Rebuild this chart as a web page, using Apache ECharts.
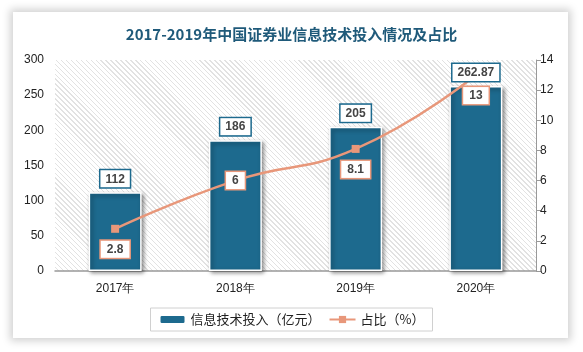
<!DOCTYPE html>
<html>
<head>
<meta charset="utf-8">
<script src="https://cdn.jsdelivr.net/npm/echarts@6/dist/echarts.min.js"></script>
<style>
html, body { margin: 0; padding: 0; background: #fff; }
#wrap { position: relative; width: 583px; height: 352px; overflow: hidden; }
.card {
  position: absolute; left: 13px; top: 12px; width: 555px; height: 326px;
  background: #fff; box-shadow: 0 0 8px 3px rgba(0,0,0,0.18);
}
.hatch {
  position: absolute; left: 55px; top: 60px; width: 481px; height: 211px;
  background: repeating-linear-gradient(45deg, #fff 0px, #fff 2.5px, #e2e2e2 2.5px, #e2e2e2 3.5px);
}
#main { position: absolute; left: 0; top: 0; width: 583px; height: 352px; }
</style>
</head>
<body>
<div id="wrap">
  <div class="card"></div>
  <div class="hatch"></div>
  <div id="main"></div>
</div>
<script>
// 数据
var years = ["2017年", "2018年", "2019年", "2020年"];
var investData = [112, 186, 205, 262.87];
var ratioData = [2.8, 6, 8.1, 13];
var ratioLabelPos = ["bottom", "inside", "bottom", "bottom"];

var chart = echarts.init(document.getElementById("main"));

var barLabel = {
  show: true,
  position: "top",
  distance: 5,
  color: "#444",
  fontSize: 12,
  fontWeight: "bold",
  backgroundColor: "#fff",
  borderColor: "#1d6a8e",
  borderWidth: 1.5,
  padding: [3, 5, 2, 5]
};

var option = {
  backgroundColor: "transparent",
  title: {
    text: "2017-2019年中国证券业信息技术投入情况及占比",
    left: "center",
    top: 22,
    textStyle: {
      color: "#1f5a7a",
      fontSize: 15,
      fontWeight: "bold",
      fontFamily: "Noto Sans CJK SC"
    }
  },
  legend: {
    bottom: 21,
    left: "center",
    data: ["信息技术投入（亿元）", "占比（%）"],
    borderColor: "#d0d0d0",
    borderWidth: 1,
    padding: [5, 8],
    itemGap: 8,
    itemWidth: 26,
    itemHeight: 9,
    textStyle: { fontSize: 13, color: "#222", fontFamily: "Noto Sans CJK SC" }
  },
  grid: { left: 55, right: 47, top: 60, bottom: 81 },
  xAxis: {
    type: "category",
    data: years,
    axisLine: { lineStyle: { color: "#999", width: 1.5 } },
    axisTick: { show: false },
    axisLabel: { color: "#222", fontSize: 12, margin: 12 }
  },
  yAxis: [
    {
      type: "value",
      min: 0, max: 300, interval: 50,
      axisLine: { show: false },
      axisTick: { show: false },
      splitLine: { show: false },
      axisLabel: { color: "#222", fontSize: 12, margin: 11 }
    },
    {
      type: "value",
      min: 0, max: 14, interval: 2,
      position: "right",
      axisLine: { show: true, lineStyle: { color: "#999" } },
      axisTick: { show: true, length: 5, lineStyle: { color: "#999" } },
      splitLine: { show: false },
      axisLabel: { color: "#222", fontSize: 12, margin: 4 }
    }
  ],
  series: [
    {
      name: "信息技术投入（亿元）",
      type: "bar",
      data: investData,
      barWidth: 53,
      z: 2,
      itemStyle: {
        color: "#1d6a8e",
        borderColor: "#fff",
        borderWidth: 1.5,
        shadowColor: "rgba(0,0,0,0.45)",
        shadowBlur: 4,
        shadowOffsetX: 2,
        shadowOffsetY: 2
      }
    },
    {
      name: "占比（%）",
      type: "line",
      yAxisIndex: 1,
      smooth: true,
      z: 3,
      data: ratioData.map(function (v, i) {
        return { value: v, label: { position: ratioLabelPos[i] } };
      }),
      symbol: "rect",
      symbolSize: 8,
      itemStyle: { color: "#e8977a" },
      lineStyle: { color: "#e8977a", width: 2.5 },
      label: {
        show: true,
        distance: 8,
        color: "#444",
        fontSize: 12,
        fontWeight: "bold",
        backgroundColor: "#fff",
        borderColor: "#e8977a",
        borderWidth: 1.5,
        padding: [3, 6, 2, 6]
      }
    },
    {
      // 柱顶标签层（透明柱，仅用于让标签在折线之上）
      name: "label",
      type: "bar",
      data: investData,
      barWidth: 53,
      barGap: "-100%",
      z: 4,
      silent: true,
      itemStyle: { color: "transparent" },
      label: barLabel
    }
  ]
};

chart.setOption(option);
</script>
</body>
</html>
